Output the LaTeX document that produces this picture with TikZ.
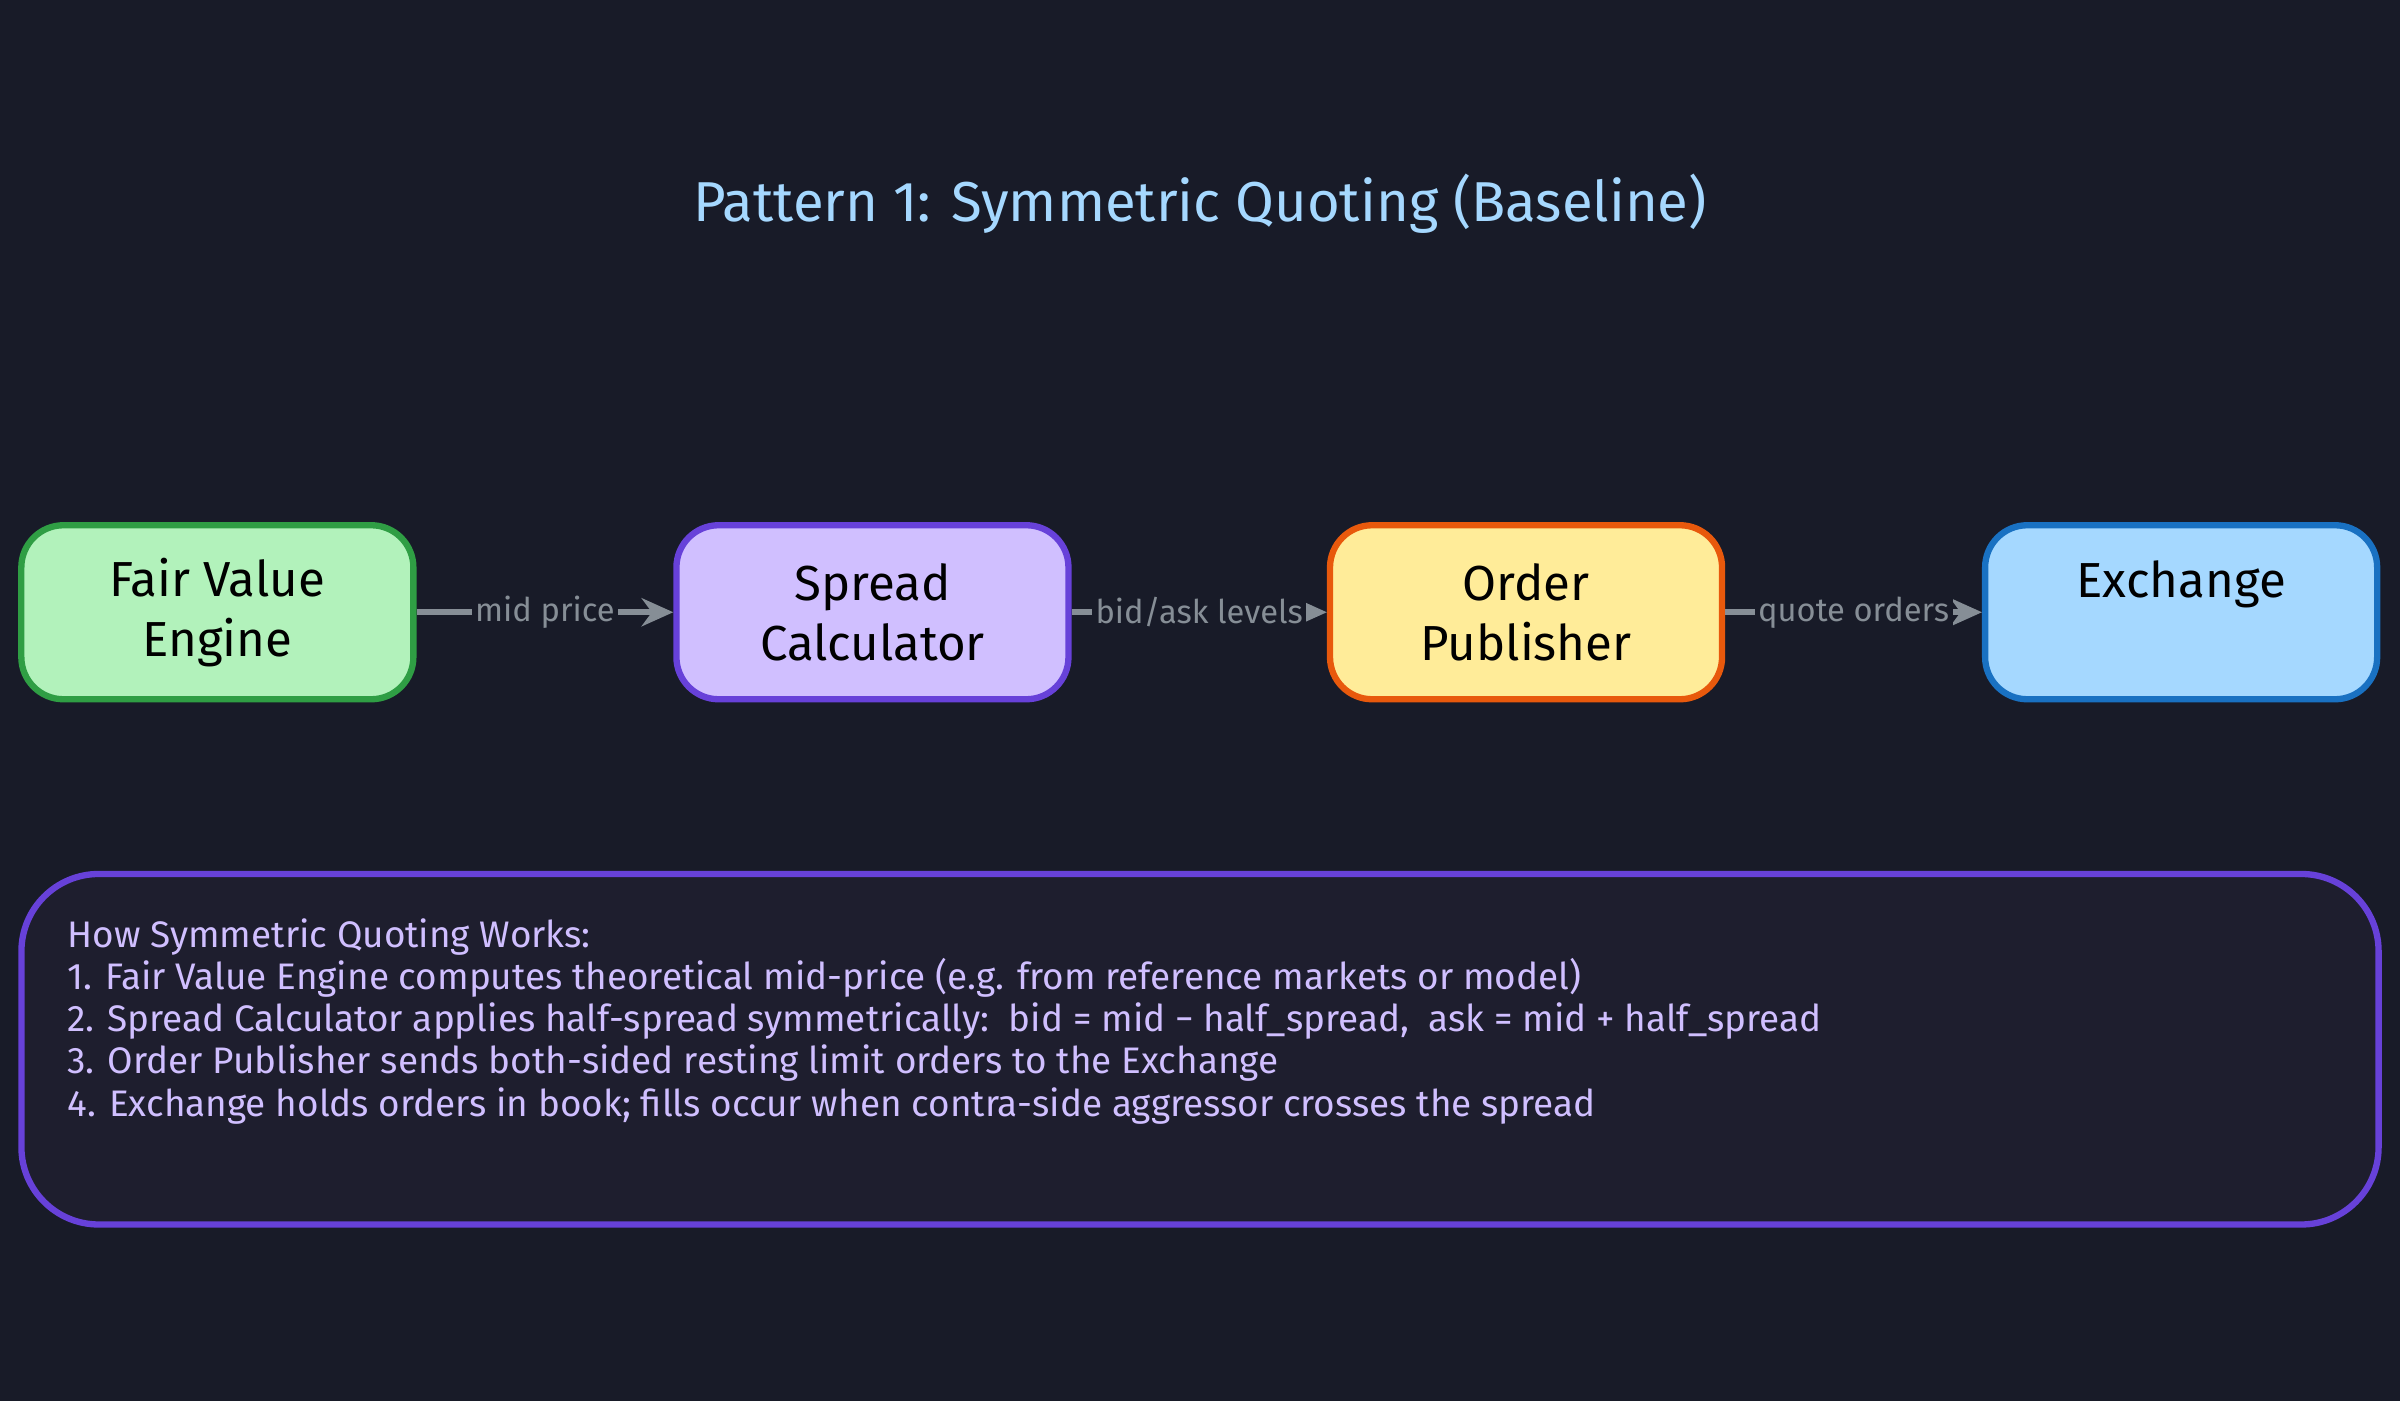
\documentclass[tikz,border=0pt]{standalone}
\usepackage{fontspec}
\setmainfont{Fira Sans}
\usetikzlibrary{positioning,arrows.meta}
\definecolor{bgcolor}{HTML}{181B28}
\definecolor{greenfill}{HTML}{B2F2BB}\definecolor{greenline}{HTML}{2F9E44}
\definecolor{purplefill}{HTML}{D0BFFF}\definecolor{purpleline}{HTML}{6741D9}
\definecolor{yellowfill}{HTML}{FFEC99}\definecolor{yellowline}{HTML}{E8590C}
\definecolor{bluefill}{HTML}{A5D8FF}\definecolor{blueline}{HTML}{1971C2}
\definecolor{notefill}{HTML}{1E1E2E}
\definecolor{arrowcolor}{HTML}{868E96}

\tikzset{
  stage/.style={draw, line width=1.8pt, rounded corners=12pt, minimum width=3.92cm, minimum height=1.74cm,
    font=\fontsize{14}{17}\selectfont, text=black, align=center},
  flow/.style={draw=arrowcolor, line width=1.6pt, -{Stealth[length=9pt,width=8pt]}},
  flowlabel/.style={fill=bgcolor, text=arrowcolor, font=\fontsize{9.3}{11}\selectfont, inner sep=1pt}
}

\begin{document}
\begin{tikzpicture}[x=0.015306cm, y=-0.015306cm]
  \fill[bgcolor] (0,0) rectangle (1568,915);
  \useasboundingbox (0,0) rectangle (1568,915);
  % title
  \node (title) at (784,133) {\color{bluefill}\fontsize{16}{19}\selectfont Pattern 1: Symmetric Quoting (Baseline)};
  % stages
  \node[stage, fill=greenfill, draw=greenline] (fair) at (142,400) {Fair Value\\Engine};
  \node[stage, fill=purplefill, draw=purpleline] (spread) at (570,400) {Spread\\Calculator};
  \node[stage, fill=yellowfill, draw=yellowline] (order) at (997,400) {Order\\Publisher};
  \node[stage, fill=bluefill, draw=blueline] (exch) at (1425,400) {};
  \node[font=\fontsize{14}{17}\selectfont] (exchlabel) at (1425,382) {Exchange};
  % connectors
  \draw[flow] (fair) -- node[flowlabel] {mid price} (spread);
  \draw[flow] (spread) -- node[flowlabel] {bid/ask levels} (order);
  \draw[flow] (order) -- node[flowlabel] {quote orders} (exch);
  % notes
  \draw[line width=1.8pt, draw=purpleline, fill=notefill, rounded corners=22pt] (14,571) rectangle (1554,800);
  \node[anchor=north west, align=left, text=purplefill, font=\fontsize{10.5}{12}\selectfont] (notes) at (36,592) {How Symmetric Quoting Works:\\
1. Fair Value Engine computes theoretical mid-price (e.g. from reference markets or model)\\
2. Spread Calculator applies half-spread symmetrically:\ \ bid = mid − half\_spread,\ \ ask = mid + half\_spread\\
3. Order Publisher sends both-sided resting limit orders to the Exchange\\
4. Exchange holds orders in book; fills occur when contra-side aggressor crosses the spread};
\end{tikzpicture}
\end{document}
